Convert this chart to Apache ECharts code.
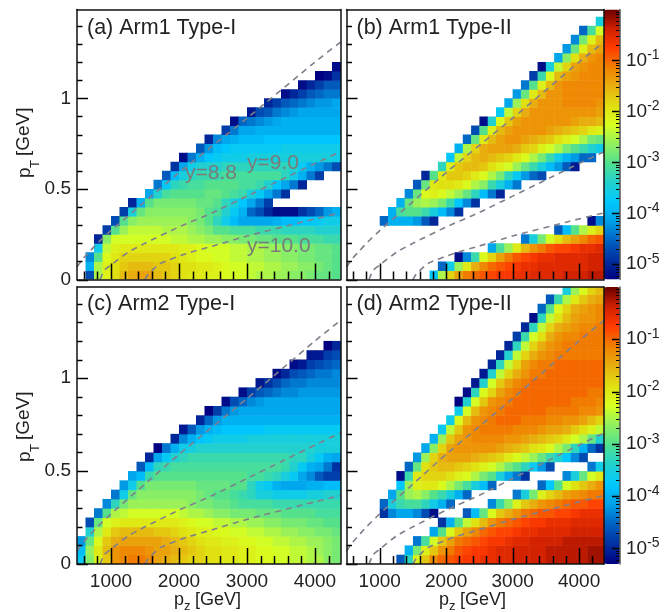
<!DOCTYPE html>
<html><head><meta charset="utf-8">
<style>html,body{margin:0;padding:0;background:#fff}#c{width:668px;height:612px}</style>
<script src="https://cdn.jsdelivr.net/npm/echarts@6/dist/echarts.min.js"></script>
</head><body><div id="c"></div>
<script>
// Each row: [pT bin, first pz bin, log10(z) x 10 for consecutive bins ...]
const panelA = [
[0,1,-47,-25,-21,-19,-16,-15,-14,-14,-16,-17,-18,-19,-20,-20,-21,-21,-22,-23,-23,-24,-25,-25,-26,-26,-27,-27,-28,-29,-29,-30],
[1,1,-40,-25,-21,-19,-17,-16,-16,-16,-17,-17,-18,-19,-19,-20,-20,-21,-22,-23,-23,-24,-24,-25,-25,-26,-26,-27,-27,-28,-29,-30],
[2,1,-43,-30,-22,-20,-18,-18,-18,-18,-18,-18,-19,-20,-21,-22,-22,-23,-23,-24,-24,-25,-25,-26,-26,-27,-27,-28,-28,-29,-29,-30],
[3,2,-36,-24,-21,-20,-20,-20,-20,-20,-20,-20,-21,-21,-22,-23,-23,-23,-24,-24,-25,-25,-26,-26,-27,-27,-28,-28,-29,-29,-30],
[4,2,-50,-27,-23,-23,-23,-23,-23,-23,-23,-24,-24,-25,-25,-26,-26,-27,-27,-28,-28,-29,-29,-30,-30,-30,-31,-31,-31,-32,-32],
[5,3,-48,-30,-26,-24,-24,-24,-24,-25,-25,-25,-26,-27,-28,-30,-30,-31,-31,-31,-32,-32,-32,-33,-33,-33,-33,-34,-34,-34],
[6,4,-47,-30,-27,-26,-26,-26,-26,-26,-26,-27,-28,-30,-33,-36,-39,-41,-41,-41,-41,-40,-39,-39,-38,-38,-37,-36,-36],
[7,5,-48,-35,-29,-27,-27,-27,-27,-27,-27,-28,-30,-31,-34,-37,-40,-45,-47,-50,-52,-52,-52,-49,-47,-45,-42,-40],
[8,6,-50,-40,-30,-28,-28,-28,-28,-28,-29,-29,-30,-33,-35,-38,-41,-44,-48],
[9,8,-41,-34,-31,-30,-30,-30,-30,-29,-29,-30,-31,-32,-35,-37,-41,-44,-49],
[10,9,-44,-37,-33,-32,-31,-31,-30,-30,-30,-30,-31,-31,-32,-34,-38,-41,-44,-50],
[11,10,-46,-39,-35,-33,-32,-32,-32,-31,-31,-31,-31,-31,-31,-31,-33,-36,-40,-44,-48],
[12,11,-49,-41,-36,-34,-34,-34,-33,-33,-33,-33,-33,-33,-33,-33,-34,-37,-40,-42,-44,-47],
[13,12,-52,-44,-40,-38,-37,-36,-36,-36,-35,-35,-35,-35,-35,-35,-35,-35,-35,-35,-36],
[14,14,-46,-42,-39,-38,-37,-37,-37,-37,-37,-37,-36,-36,-36,-36,-36,-36,-36],
[15,15,-50,-43,-41,-40,-39,-39,-39,-38,-38,-38,-38,-38,-38,-38,-38,-38],
[16,17,-48,-44,-41,-41,-40,-40,-40,-40,-40,-40,-40,-40,-40,-40],
[17,18,-52,-45,-44,-43,-42,-41,-40,-40,-40,-40,-40,-40,-40],
[18,20,-51,-47,-46,-44,-43,-42,-41,-41,-41,-41,-41],
[19,22,-50,-48,-46,-45,-44,-43,-42,-42,-41],
[20,24,-52,-50,-48,-46,-45,-44,-44],
[21,26,-52,-50,-48,-46,-46],
[22,28,-53,-52,-49],
[23,30,-52]
];
const panelB = [
[0,10,-38,-25,-18,-14,-11,-10,-9,-8,-7,-7,-6,-6,-5,-5,-5,-5,-4,-4,-4,-3,-3],
[1,11,-45,-36,-26,-20,-15,-12,-10,-9,-8,-7,-6,-6,-5,-5,-5,-5,-5,-5,-4,-4],
[2,13,-52,-43,-32,-22,-18,-14,-11,-9,-8,-7,-6,-6,-5,-5,-5,-5,-4,-4],
[3,17,-41,-31,-26,-20,-16,-13,-11,-9,-8,-8,-7,-6,-6,-5],
[4,21,-44,-35,-28,-23,-19,-16,-14,-12,-10,-9],
[5,25,-46,-39,-30,-25,-21,-18],
[6,4,-45,-40,-40,-40,-42,-46,-50],
[6,29,-52,-43],
[7,5,-40,-31,-30,-30,-32,-35,-39,-43,-49],
[8,6,-40,-29,-26,-25,-26,-28,-32,-38,-43,-49],
[9,7,-43,-29,-22,-21,-22,-24,-26,-29,-33,-39,-44,-50],
[10,8,-46,-29,-20,-19,-19,-20,-22,-25,-27,-32,-35,-40,-44],
[11,9,-50,-30,-20,-17,-17,-18,-20,-22,-25,-28,-33,-37,-42,-45,-47],
[12,11,-33,-21,-17,-16,-16,-17,-19,-21,-23,-26,-29,-32,-35,-39,-42,-46,-51],
[13,12,-38,-24,-18,-16,-15,-16,-17,-18,-20,-22,-25,-28,-32,-36,-40,-42,-45,-45],
[14,13,-40,-25,-18,-15,-14,-14,-14,-15,-17,-18,-21,-23,-25,-28,-30,-32,-34,-36],
[15,14,-45,-29,-20,-16,-14,-13,-13,-14,-15,-16,-17,-19,-21,-23,-25,-28,-29],
[16,15,-47,-30,-21,-16,-14,-13,-13,-13,-13,-14,-15,-16,-17,-18,-20,-21],
[17,16,-52,-34,-22,-17,-14,-13,-13,-13,-13,-13,-13,-14,-15,-15,-16],
[18,18,-37,-24,-18,-15,-13,-13,-13,-13,-13,-13,-13,-13,-14],
[19,19,-41,-26,-19,-15,-13,-13,-13,-12,-12,-12,-12,-13],
[20,20,-42,-29,-20,-16,-13,-13,-12,-12,-12,-12,-12],
[21,21,-44,-30,-21,-16,-13,-12,-12,-12,-12,-12],
[22,22,-48,-32,-22,-16,-14,-13,-12,-12,-12],
[23,23,-52,-35,-24,-18,-14,-13,-12,-12],
[24,25,-41,-27,-19,-15,-13,-12],
[25,26,-42,-29,-21,-16,-14],
[26,27,-43,-28,-21,-16],
[27,28,-45,-31,-23],
[28,30,-35]
];
const panelC = [
[0,0,-37,-27,-21,-17,-13,-12,-11,-11,-12,-14,-15,-16,-17,-18,-18,-19,-19,-20,-20,-21,-21,-22,-22,-23,-23,-24,-24,-25,-25,-27,-28],
[1,0,-39,-26,-20,-16,-13,-12,-12,-12,-13,-14,-14,-15,-16,-17,-18,-19,-19,-20,-20,-21,-21,-22,-22,-23,-23,-24,-24,-25,-26,-27,-28],
[2,0,-42,-29,-22,-17,-15,-14,-14,-14,-14,-14,-15,-16,-17,-18,-19,-20,-20,-21,-21,-22,-22,-23,-23,-24,-24,-25,-25,-26,-26,-27,-28],
[3,1,-34,-25,-20,-17,-16,-16,-16,-16,-17,-17,-18,-19,-20,-21,-21,-22,-22,-23,-23,-24,-24,-25,-25,-26,-26,-27,-27,-28,-28,-29],
[4,1,-47,-29,-23,-21,-20,-20,-20,-20,-20,-20,-20,-21,-22,-23,-23,-24,-24,-25,-25,-26,-26,-27,-27,-28,-28,-28,-29,-29,-30,-30],
[5,2,-44,-30,-25,-24,-23,-23,-23,-23,-23,-23,-24,-25,-25,-26,-27,-27,-28,-28,-28,-29,-29,-29,-30,-30,-30,-30,-31,-31,-31],
[6,3,-43,-33,-28,-26,-26,-26,-26,-26,-26,-26,-27,-28,-28,-29,-29,-30,-31,-31,-31,-31,-32,-32,-32,-32,-32,-32,-32,-32],
[7,4,-44,-36,-29,-27,-27,-27,-27,-27,-27,-27,-28,-29,-30,-30,-31,-32,-33,-35,-35,-36,-36,-36,-36,-35,-35,-34,-34],
[8,5,-42,-36,-30,-28,-28,-28,-28,-28,-28,-29,-29,-29,-29,-30,-30,-33,-36,-37,-40,-41,-41,-41,-40,-40,-39,-39],
[9,6,-41,-39,-32,-30,-30,-30,-30,-30,-30,-30,-30,-30,-30,-30,-31,-31,-32,-33,-35,-37,-41,-43,-46,-48,-48],
[10,7,-46,-39,-33,-32,-31,-31,-31,-31,-31,-31,-31,-31,-31,-31,-31,-31,-31,-32,-34,-37,-40,-41,-44,-49],
[11,8,-50,-41,-37,-34,-33,-32,-32,-32,-32,-32,-32,-32,-32,-32,-32,-32,-32,-33,-33,-35,-37,-40,-41],
[12,9,-53,-44,-40,-36,-35,-34,-34,-34,-34,-34,-34,-34,-34,-34,-34,-34,-34,-34,-34,-35,-35,-35],
[13,11,-50,-43,-40,-38,-37,-36,-36,-36,-36,-35,-35,-35,-35,-35,-35,-35,-35,-35,-35,-35],
[14,12,-51,-46,-42,-40,-39,-38,-38,-38,-38,-38,-37,-37,-37,-37,-37,-37,-37,-37,-37],
[15,14,-50,-45,-42,-40,-40,-40,-40,-40,-40,-40,-40,-40,-40,-40,-40,-40,-40],
[16,15,-53,-48,-44,-42,-41,-41,-41,-41,-41,-41,-41,-41,-41,-41,-41,-41],
[17,17,-52,-47,-45,-43,-42,-41,-41,-41,-41,-41,-41,-41,-41,-41],
[18,19,-52,-48,-46,-45,-44,-43,-43,-42,-42,-42,-42,-42],
[19,21,-51,-49,-47,-45,-44,-44,-43,-43,-43,-43],
[20,23,-52,-50,-47,-46,-45,-44,-44,-43],
[21,25,-52,-51,-48,-47,-46,-45],
[22,27,-51,-51,-48,-47],
[23,29,-53,-50]
];
const panelD = [
[0,6,-46,-33,-21,-17,-12,-10,-9,-8,-7,-7,-6,-6,-5,-5,-4,-4,-4,-4,-3,-3,-3,-3,-3,-2,-2],
[1,7,-40,-28,-21,-17,-13,-11,-9,-8,-7,-7,-6,-5,-5,-4,-4,-4,-4,-3,-3,-3,-3,-3,-2,-2],
[2,8,-44,-31,-23,-17,-14,-11,-10,-9,-8,-7,-7,-6,-5,-5,-4,-4,-4,-4,-3,-3,-3,-3,-3],
[3,10,-41,-30,-22,-17,-14,-12,-10,-9,-8,-8,-7,-6,-6,-5,-5,-5,-5,-4,-4,-4,-4],
[4,11,-49,-40,-30,-24,-19,-16,-13,-11,-10,-9,-8,-7,-7,-6,-6,-6,-5,-5,-5,-5],
[5,4,-49,-43,-41,-41,-43,-47,-52],
[5,14,-46,-39,-29,-22,-17,-15,-13,-11,-10,-9,-9,-8,-8,-7,-6,-6,-6],
[6,4,-45,-35,-32,-31,-31,-33,-36,-40,-45],
[6,17,-43,-32,-27,-21,-17,-15,-13,-12,-11,-10,-9,-9,-8,-8],
[7,5,-41,-30,-26,-25,-27,-30,-32,-35,-40,-45],
[7,20,-44,-35,-28,-21,-18,-16,-14,-13,-12,-11,-11],
[8,6,-38,-26,-21,-20,-20,-22,-25,-28,-31,-35,-39,-45],
[8,23,-45,-38,-30,-23,-19,-17,-15,-13],
[9,6,-52,-32,-20,-18,-18,-18,-19,-21,-22,-25,-28,-30,-35,-41,-44,-49],
[9,26,-43,-35,-29,-23,-20],
[10,7,-45,-29,-19,-17,-16,-16,-17,-18,-19,-21,-23,-25,-28,-30,-33,-37,-42,-47],
[10,29,-44,-36],
[11,8,-42,-26,-18,-15,-14,-14,-14,-15,-16,-17,-18,-20,-22,-24,-26,-29,-32,-34,-38,-43,-47],
[12,9,-41,-27,-18,-14,-13,-13,-13,-13,-13,-14,-15,-16,-17,-19,-20,-22,-25,-28,-33,-40,-45,-49],
[13,10,-40,-26,-17,-14,-13,-12,-12,-12,-12,-13,-13,-14,-15,-16,-17,-18,-20,-23,-25,-29,-34],
[14,11,-37,-24,-17,-13,-12,-11,-11,-11,-11,-12,-12,-12,-13,-14,-14,-15,-17,-19,-21,-24],
[15,12,-36,-22,-16,-13,-12,-11,-10,-10,-10,-11,-11,-11,-12,-12,-13,-13,-14,-16,-18],
[16,13,-36,-23,-16,-13,-12,-11,-10,-10,-10,-10,-10,-11,-11,-11,-11,-12,-12,-13],
[17,13,-53,-34,-23,-17,-13,-12,-11,-10,-10,-10,-10,-10,-10,-10,-11,-11,-11,-12],
[18,14,-52,-33,-22,-18,-14,-12,-11,-10,-10,-10,-10,-10,-10,-10,-10,-11,-11],
[19,15,-51,-34,-23,-17,-14,-12,-11,-10,-10,-10,-10,-10,-10,-10,-10,-10],
[20,16,-51,-34,-24,-18,-15,-13,-11,-11,-10,-10,-10,-10,-10,-10,-10],
[21,17,-50,-33,-24,-18,-14,-12,-11,-11,-10,-10,-10,-10,-10,-10],
[22,18,-50,-34,-24,-18,-15,-13,-12,-11,-11,-11,-11,-11,-11],
[23,19,-50,-33,-24,-18,-15,-13,-12,-11,-11,-11,-11,-11],
[24,20,-48,-32,-23,-19,-15,-13,-12,-12,-11,-11,-11],
[25,21,-50,-33,-24,-18,-15,-14,-13,-12,-12,-11],
[26,22,-52,-33,-24,-19,-16,-14,-13,-13,-12],
[27,23,-45,-30,-22,-18,-15,-14,-13,-12],
[28,24,-46,-32,-25,-20,-17,-15,-14],
[29,26,-35,-26,-22,-18,-16]
];
const lineA = [[500,.07],[600,.12],[700,.16],[800,.2],[1000,.27],[1500,.43],[2000,.59],[3000,.89],[4000,1.2],[4375,1.31]];
const lineB = [[840,0],[900,.05],[1000,.08],[1250,.15],[1500,.2],[2000,.29],[2500,.37],[3000,.46],[3500,.55],[4000,.64],[4375,.705]];
const lineC = [[1500,0],[1550,.03],[1725,.088],[2117,.144],[2500,.185],[3000,.24],[3832,.319],[4375,.368]];
const xMajor = [1000,2000,3000,4000];
const xMinor = [600,800,1200,1400,1600,1800,2200,2400,2600,2800,3200,3400,3600,3800,4200];
const yMajor = [0,0.5,1];
const yMinor = [.1,.2,.3,.4,.6,.7,.8,.9,1.1,1.2,1.3,1.4];
const panelTitles = ['(a) Arm1 Type-I','(b) Arm1 Type-II','(c) Arm2 Type-I','(d) Arm2 Type-II'];
const paletteStops = ['#000080','#0030a0','#0060c0','#00a0e8','#00c8ff','#20d0d0','#50e090','#90f060','#d8ff20','#e0e010','#e8b010','#f08000','#ff3c00','#d02000','#6a0000'];

const FONT = '"Liberation Sans", Arial, sans-serif';
const XMIN=500, XMAX=4375, YMAX=1.49, BINX=125, BINY=0.05, ZMIN=-5.3, ZMAX=0;
const panelBoxes = [
 {left:77, top:9.5, width:263.5, height:270},
 {left:346.5, top:9.5, width:257.5, height:270},
 {left:77, top:287, width:263.5, height:277},
 {left:346.5, top:287, width:257.5, height:277}
];
const titleTops = [17,17,293,293];
const barBoxes = [{left:604,top:9.5,width:16,height:270},{left:604,top:287,width:16,height:277}];
const panels = [panelA,panelB,panelC,panelD];

function cells(rows){
  const out=[];
  rows.forEach(r=>{
    for(let i=2;i<r.length;i++){
      const c=r[1]+i-2;
      if(c>30) continue;
      out.push([XMIN+c*BINX, r[0]*BINY, XMIN+(c+1)*BINX, (r[0]+1)*BINY, r[i]/10]);
    }
  });
  return out;
}
function renderCell(params,api){
  const a=api.coord([api.value(0),api.value(1)]);
  const b=api.coord([api.value(2),api.value(3)]);
  return {type:'rect',shape:{x:a[0],y:b[1],width:b[0]-a[0]+0.5,height:a[1]-b[1]+0.5},
    style:{fill:api.visual('color')}};
}
// tick = a point on the axis [x, y] and a pixel offset pointing into the plot
const tickRender=(dx,dy,w)=>(params,api)=>{
  const p=api.coord([api.value(0),api.value(1)]);
  const x=dx===0?Math.round(p[0])+0.5:p[0], y=dy===0?Math.round(p[1])+0.5:p[1];
  return {type:'line',shape:{x1:x,y1:y,x2:x+dx,y2:y+dy},style:{stroke:'#000',lineWidth:w}};
};
const addTicks=(out,xi,yi,data,dx,dy,w)=>out.push({type:'custom',renderItem:tickRender(dx,dy,w),xAxisIndex:xi,yAxisIndex:yi,
  data,encode:{x:0,y:1},silent:true,z:5,zlevel:1});
const grid=[],xAxis=[],yAxis=[],series=[],graphic=[],tickSeries=[];
panelBoxes.forEach((box,i)=>{
  grid.push(Object.assign({containLabel:false},box));
  const bottomPanel=i>=2, leftPanel=i%2===0;
  const frame={lineStyle:{color:'#111',width:1.5}};
  const xb={gridIndex:i,type:'value',min:XMIN,max:XMAX,splitLine:{show:false},zlevel:1,z:10};
  const yb={gridIndex:i,type:'value',min:0,max:YMAX,splitLine:{show:false},zlevel:1,z:10};
  const xi=xAxis.length, yi=yAxis.length;
  xAxis.push(Object.assign({},xb,{position:'bottom',axisLine:{show:true,onZero:false,...frame},
    axisTick:{show:false},
    axisLabel:{show:bottomPanel,customValues:xMajor,margin:8,fontFamily:FONT,fontSize:19,color:'#222',formatter:v=>String(v)}}));
  xAxis.push(Object.assign({},xb,{position:'top',axisLine:{show:true,onZero:false,...frame},axisTick:{show:false},axisLabel:{show:false}}));
  yAxis.push(Object.assign({},yb,{position:'left',axisLine:{show:true,onZero:false,...frame},
    axisTick:{show:false},
    axisLabel:{show:leftPanel,customValues:yMajor,margin:6,fontFamily:FONT,fontSize:19,color:'#222',
      formatter:v=>String(v)}}));
  yAxis.push(Object.assign({},yb,{position:'right',axisLine:{show:true,onZero:false,...frame},axisTick:{show:false},axisLabel:{show:false}}));
  series.push({type:'custom',name:panelTitles[i],renderItem:renderCell,xAxisIndex:xi,yAxisIndex:yi,
    data:cells(panels[i]),encode:{x:[0,2],y:[1,3]},clip:true,silent:true,z:2});
  [lineA,lineB,lineC].forEach(l=>series.push({type:'line',data:l,xAxisIndex:xi,yAxisIndex:yi,showSymbol:false,symbol:'none',
    smooth:0.2,clip:true,silent:true,z:3,lineStyle:{color:'#7f7f8c',width:1.6,type:[6,5]}}));
  addTicks(tickSeries,xi,yi,xMajor.map(v=>[v,0]),0,-16,1.5);
  addTicks(tickSeries,xi,yi,xMinor.map(v=>[v,0]),0,-8,1.5);
  addTicks(tickSeries,xi,yi,yMajor.map(v=>[XMIN,v]),11,0,1.5);
  addTicks(tickSeries,xi,yi,yMinor.map(v=>[XMIN,v]),5.5,0,1.5);
  graphic.push({type:'text',x:box.left+10,y:titleTops[i],z:20,style:{text:panelTitles[i],font:'21.5px '+FONT,fill:'#222',textVerticalAlign:'top'}});
});
// colour bars
const barMajor=[-5,-4,-3,-2,-1];
const barMinor=[];
for(let n=-6;n<0;n++)for(let k=2;k<=9;k++){const v=n+Math.log10(k);if(v>ZMIN&&v<ZMAX)barMinor.push(v);}
barBoxes.forEach(box=>{
  const gi=grid.length;
  grid.push(Object.assign({},box));
  const xi=xAxis.length, yi=yAxis.length;
  xAxis.push({gridIndex:gi,type:'value',min:0,max:1,show:false});
  yAxis.push({gridIndex:gi,type:'value',min:ZMIN,max:ZMAX,splitLine:{show:false},zlevel:1,z:10,position:'right',
    axisLine:{show:true,onZero:false,lineStyle:{color:'#555',width:1.5}},
    axisTick:{show:false},
    axisLabel:{show:true,customValues:barMajor,margin:6,formatter:v=>'{b|10}{s|'+v+'}',
      rich:{b:{fontFamily:FONT,fontSize:19,color:'#222'},s:{fontFamily:FONT,fontSize:14,color:'#222',verticalAlign:'top',padding:[0,0,10,0]}}}});
  addTicks(tickSeries,xi,yi,barMajor.map(v=>[1,v]),-8,0,1.5);
  addTicks(tickSeries,xi,yi,barMinor.map(v=>[1,v]),-4,0,1);
});
const vm=(box,idx)=>({type:'continuous',show:true,left:box.left,top:box.top,itemWidth:box.width,itemHeight:box.height,padding:0,
  min:ZMIN,max:ZMAX,dimension:4,seriesIndex:idx,calculable:false,hoverLink:false,text:null,showLabel:false,
  inRange:{color:paletteStops},borderWidth:0,realtime:false,z:4,handleSize:0,indicatorSize:0,indicatorStyle:{opacity:0}});
// free text
const T=(t,x,y,f,extra)=>Object.assign({type:'text',x,y,z:20,style:{text:t,font:f+'px '+FONT,fill:'#222',textAlign:'left',textVerticalAlign:'middle'}},extra||{});
const gray='#7a7a7a';
[['y=8.8',185,173],['y=9.0',247,163],['y=10.0',247,246]].forEach(a=>{
  const g=T(a[0],a[1],a[2],21); g.style.fill=gray; graphic.push(g);
});
[0,284].forEach(dy=>{
  graphic.push(T('p',25,178+dy,19,{rotation:Math.PI/2}));
  graphic.push(T('T',35,168+dy,13,{rotation:Math.PI/2}));
  graphic.push(T('[GeV]',24,156+dy,19,{rotation:Math.PI/2}));
});
[[174,600],[439,600]].forEach(([x,y])=>{
  graphic.push(T('p',x,y,18));
  graphic.push(T('z',x+10,y+6,13));
  graphic.push(T('[GeV]',x+21,y,18));
});
const chart=echarts.init(document.getElementById('c'),null,{renderer:'canvas'});
chart.setOption({animation:false,grid,xAxis,yAxis,series:series.concat(tickSeries),graphic,
  visualMap:[vm(barBoxes[0],[0,4]),vm(barBoxes[1],[8,12])]});
</script></body></html>
